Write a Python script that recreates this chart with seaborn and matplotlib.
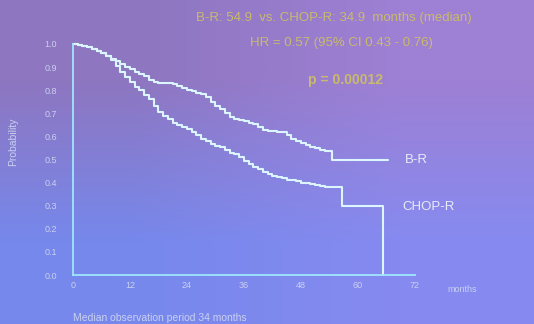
import numpy as np
import pandas as pd
import matplotlib
matplotlib.use("Agg")
import matplotlib.pyplot as plt
import seaborn as sns

# Kaplan-Meier curves (months, probability)
br_months = [0, 1, 2, 3, 4, 5, 6, 7, 8, 9, 10, 11, 12, 13, 14, 15, 16, 17, 18, 19,
             20, 21, 22, 23, 24, 25, 26, 27, 28, 29, 30, 31, 32, 33, 34, 35, 36, 37,
             38, 39, 40, 41, 42, 43, 44, 45, 46, 47, 48, 49, 50, 51, 52, 53, 54.5,
             66.3]
br_prob = [1.0, 0.997, 0.992, 0.985, 0.978, 0.97, 0.96, 0.95, 0.935, 0.925, 0.912,
           0.90, 0.89, 0.88, 0.87, 0.86, 0.845, 0.835, 0.833, 0.83, 0.83, 0.825,
           0.82, 0.81, 0.80, 0.795, 0.79, 0.785, 0.77, 0.75, 0.73, 0.72, 0.70,
           0.684, 0.675, 0.67, 0.665, 0.66, 0.655, 0.64, 0.628, 0.625, 0.622, 0.62,
           0.618, 0.605, 0.59, 0.58, 0.57, 0.563, 0.555, 0.548, 0.54, 0.535, 0.50,
           0.50]

chop_months = [0, 1, 2, 3, 4, 5, 6, 7, 8, 9, 10, 11, 12, 13, 14, 15, 16, 17, 18, 19,
               20, 21, 22, 23, 24, 25, 26, 27, 28, 29, 30, 31, 32, 33, 34, 35, 36, 37,
               38, 39, 40, 41, 42, 43, 44, 45, 46, 47, 48, 49, 50, 51, 52, 53, 54,
               56.6, 65.3]
chop_prob = [1.0, 0.997, 0.992, 0.985, 0.978, 0.97, 0.96, 0.95, 0.93, 0.905, 0.88,
             0.855, 0.835, 0.815, 0.80, 0.78, 0.76, 0.73, 0.705, 0.69, 0.675, 0.66,
             0.65, 0.64, 0.63, 0.62, 0.605, 0.59, 0.578, 0.567, 0.557, 0.552, 0.54,
             0.53, 0.522, 0.51, 0.495, 0.48, 0.468, 0.458, 0.447, 0.437, 0.43, 0.424,
             0.418, 0.413, 0.41, 0.405, 0.40, 0.398, 0.393, 0.39, 0.385, 0.382, 0.38,
             0.30, 0.0]

x_ticks = [0, 12, 24, 36, 48, 60, 72]
y_ticks = [0.0, 0.1, 0.2, 0.3, 0.4, 0.5, 0.6, 0.7, 0.8, 0.9, 1.0]

df = pd.concat([
    pd.DataFrame({"months": br_months, "prob": br_prob, "arm": "B-R"}),
    pd.DataFrame({"months": chop_months, "prob": chop_prob, "arm": "CHOP-R"}),
])

sns.set_style("white")
plt.rcParams["font.family"] = ["Liberation Sans", "DejaVu Sans"]

line_col = "#dcf6ff"
axis_col = "#9fe6ff"
tick_col = "#c9d0f0"
yellow = "#c8bb6a"

fig = plt.figure(figsize=(5.34, 3.24), dpi=100)

# projected slide background: purple at top, bluer towards the bottom
bg = fig.add_axes([0, 0, 1, 1], zorder=-10)
corners = np.array([[[142, 118, 192], [158, 128, 212]],
                    [[118, 136, 236], [134, 138, 240]]]) / 255.0
bg.imshow(corners, extent=[0, 1, 0, 1], aspect="auto", interpolation="bilinear")
bg.set_axis_off()

ax = fig.add_axes([0.1367, 0.1512, 0.6404, 0.713])
ax.patch.set_alpha(0)

sns.lineplot(data=df, x="months", y="prob", units="arm", estimator=None,
             drawstyle="steps-post", color=line_col, lw=1.5, ax=ax,
             legend=False, clip_on=False)

ax.set_xlim(0, 72)
ax.set_ylim(0, 1.0)
ax.set_xticks(x_ticks)
ax.set_yticks(y_ticks)
ax.set_yticklabels([f"{v:.1f}" for v in y_ticks])
for side in ["top", "right"]:
    ax.spines[side].set_visible(False)
for side in ["left", "bottom"]:
    ax.spines[side].set_color(axis_col)
    ax.spines[side].set_linewidth(1.3)
ax.tick_params(axis="both", colors=axis_col, labelcolor=tick_col, labelsize=6.5,
               direction="inout", length=5, width=1)
ax.tick_params(axis="x", pad=1.5)
ax.tick_params(axis="y", pad=9)
ax.set_xlabel("")
ax.set_ylabel("Probability", color=tick_col, fontsize=7.5)
ax.yaxis.set_label_coords(-0.16, 0.576)

# curve labels
ax.text(69.9, 0.50, "B-R", color="#e6ecf8", fontsize=9.5, va="center")
ax.text(69.3, 0.295, "CHOP-R", color="#e6ecf8", fontsize=9.5, va="center")

# annotations from the slide
fig.text(0.625, 0.945, "B-R: 54.9  vs. CHOP-R: 34.9  months (median)", color=yellow,
         fontsize=9.5, ha="center", va="center")
fig.text(0.64, 0.868, "HR = 0.57 (95% CI 0.43 - 0.76)", color=yellow,
         fontsize=9.5, ha="center", va="center")
fig.text(0.646, 0.752, "p = 0.00012", color=yellow, fontsize=10, ha="center",
         va="center", fontweight="bold")
fig.text(0.838, 0.105, "months", color=tick_col, fontsize=6.5, ha="left", va="center")
fig.text(0.137, 0.02, "Median observation period 34 months", color=tick_col,
         fontsize=7.5, ha="left", va="center")

fig.savefig("out.png", dpi=100)
